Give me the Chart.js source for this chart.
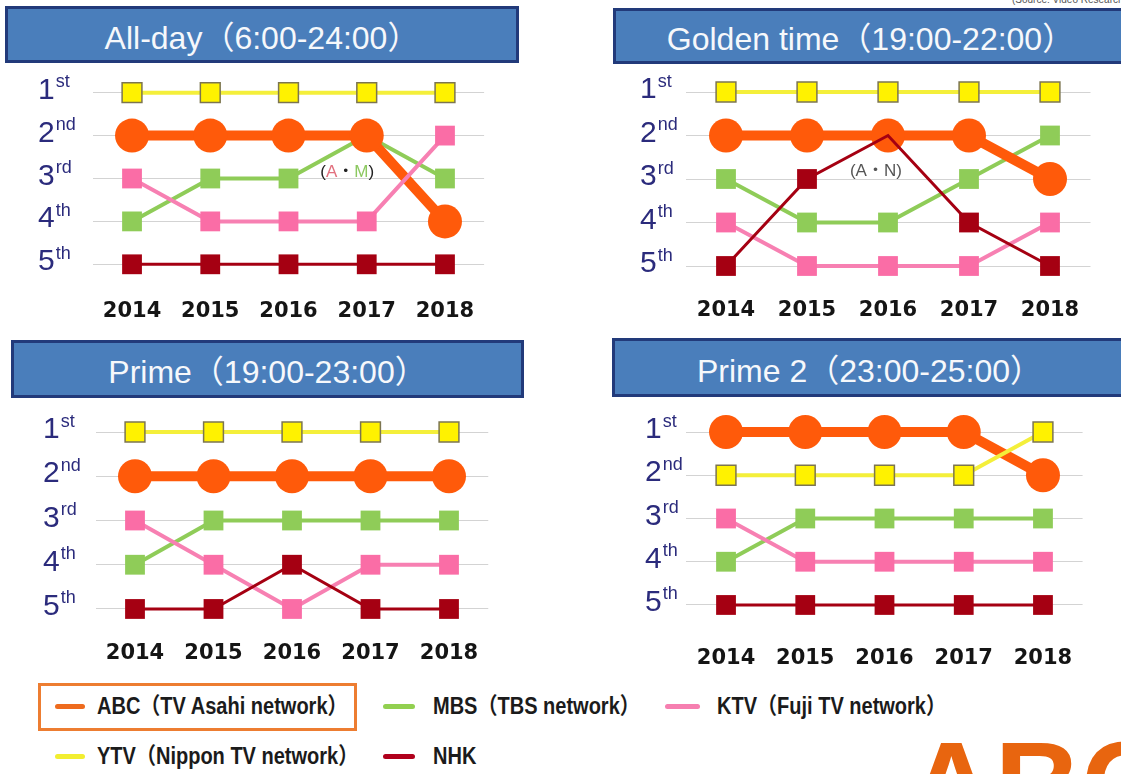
<!DOCTYPE html>
<html>
<head>
<meta charset="utf-8">
<script src="https://cdn.jsdelivr.net/npm/chart.js@4.4.1/dist/chart.umd.min.js"></script>
<style>
html,body{margin:0;padding:0;background:#fff;}
body{width:1121px;height:774px;overflow:hidden;position:relative;font-family:"Liberation Sans",Arial,sans-serif;}
.title{position:absolute;box-sizing:border-box;background:#4A7EBB;border:3px solid #223A7A;color:#F6F8FB;font-size:32px;display:flex;align-items:center;justify-content:center;white-space:nowrap;font-family:"Liberation Sans","Noto Sans CJK JP",sans-serif;}
canvas{position:absolute;}
.legbox{position:absolute;box-sizing:border-box;border:3px solid #ED7D31;}
.legline{position:absolute;height:5px;border-radius:3px;}
.legtext{position:absolute;font-family:"Liberation Sans","Noto Sans CJK JP",sans-serif;font-weight:bold;font-size:23px;color:#1b1b1b;white-space:nowrap;line-height:26px;transform:scaleX(0.87);transform-origin:0 50%;}
.logo{position:absolute;left:908px;top:724px;font-family:"Liberation Sans",sans-serif;font-weight:bold;font-size:120px;line-height:1;color:#E8650F;white-space:nowrap;}
.source{position:absolute;left:1012px;top:-6px;font-size:10px;color:#555;white-space:nowrap;}
</style>
</head>
<body>
<div class="source">(Source: Video Research Ltd.)</div>
<div id="titles"></div>
<canvas id="c1" width="560" height="270" style="left:0px;top:66px"></canvas>
<canvas id="c2" width="561" height="270" style="left:560px;top:66px"></canvas>
<canvas id="c3" width="560" height="280" style="left:0px;top:400px"></canvas>
<canvas id="c4" width="561" height="280" style="left:560px;top:400px"></canvas>
<div id="legend"></div>
<div class="logo">ABC</div>
<script>
// ---------- data ----------
const YEARS = ['2014', '2015', '2016', '2017', '2018'];
const RANKS = [1, 2, 3, 4, 5];
const RANK_NUM = ['1', '2', '3', '4', '5'];
const RANK_SUFFIX = ['st', 'nd', 'rd', 'th', 'th'];
const PANEL_TITLES = ['All-day（6:00-24:00）', 'Golden time（19:00-22:00）', 'Prime（19:00-23:00）', 'Prime 2（23:00-25:00）'];
const SERIES_NAMES = ['ABC（TV Asahi network）', 'MBS（TBS network）', 'KTV（Fuji TV network）', 'YTV（Nippon TV network）', 'NHK'];

const ALLDAY_ABC = [2, 2, 2, 2, 4];
const ALLDAY_MBS = [4, 3, 3, 2, 3];
const ALLDAY_KTV = [3, 4, 4, 4, 2];
const ALLDAY_YTV = [1, 1, 1, 1, 1];
const ALLDAY_NHK = [5, 5, 5, 5, 5];

const GOLDEN_ABC = [2, 2, 2, 2, 3];
const GOLDEN_MBS = [3, 4, 4, 3, 2];
const GOLDEN_KTV = [4, 5, 5, 5, 4];
const GOLDEN_YTV = [1, 1, 1, 1, 1];
const GOLDEN_NHK = [5, 3, 2, 4, 5];

const PRIME_ABC = [2, 2, 2, 2, 2];
const PRIME_MBS = [4, 3, 3, 3, 3];
const PRIME_KTV = [3, 4, 5, 4, 4];
const PRIME_YTV = [1, 1, 1, 1, 1];
const PRIME_NHK = [5, 5, 4, 5, 5];

const PRIME2_ABC = [1, 1, 1, 1, 2];
const PRIME2_MBS = [4, 3, 3, 3, 3];
const PRIME2_KTV = [3, 4, 4, 4, 4];
const PRIME2_YTV = [2, 2, 2, 2, 1];
const PRIME2_NHK = [5, 5, 5, 5, 5];

// ---------- styles ----------
const STYLE = {
  abc: {name: 0, line: '#FF5A0A', fill: '#FF5A0A', border: '#FF5A0A', bw: 0, lw: 10, style: 'circle', r: 17, order: 3, leg: '#EE6B1E'},
  mbs: {name: 1, line: '#8FCC58', fill: '#8FCC58', border: '#8FCC58', bw: 0, lw: 4, style: 'rect', r: 14, order: 4, leg: '#92D050'},
  ktv: {name: 2, line: '#F780B2', fill: '#FA6DA6', border: '#FA6DA6', bw: 0, lw: 4, style: 'rect', r: 14, order: 1, leg: '#F67FB0'},
  ytv: {name: 3, line: '#F4EF3A', fill: '#FFF200', border: '#7C7550', bw: 1.5, lw: 4, style: 'rect', r: 14, order: 2, leg: '#F2EE30'},
  nhk: {name: 4, line: '#A50012', fill: '#A50012', border: '#A50012', bw: 0, lw: 3, style: 'rect', r: 14, order: 0, leg: '#B0001C'}
};

const PANELS = [
  {canvas: 'c1', series: {abc: ALLDAY_ABC, mbs: ALLDAY_MBS, ktv: ALLDAY_KTV, ytv: ALLDAY_YTV, nhk: ALLDAY_NHK},
   cLeft: 0, cTop: 66, cW: 560, cH: 270, area: {l: 92.9, r: 484.1, t: 71.25, b: 285.75}, tickPad: 13.5, labelX: 38,
   title: {l: 5, t: 6, w: 514, h: 57},
   annot: [{x: 2.75, y: 2.85, parts: [['(', '#222'], ['A', '#E2707E'], ['・', '#222'], ['M', '#8CC860'], [')', '#222']]}]},
  {canvas: 'c2', series: {abc: GOLDEN_ABC, mbs: GOLDEN_MBS, ktv: GOLDEN_KTV, ytv: GOLDEN_YTV, nhk: GOLDEN_NHK},
   cLeft: 560, cTop: 66, cW: 561, cH: 270, area: {l: 685.5, r: 1090.5, t: 70.25, b: 287.75}, tickPad: 10.5, labelX: 640,
   title: {l: 613, t: 8, w: 515, h: 56},
   annot: [{x: 1.85, y: 2.82, parts: [['(A・N)', '#555']]}]},
  {canvas: 'c3', series: {abc: PRIME_ABC, mbs: PRIME_MBS, ktv: PRIME_KTV, ytv: PRIME_YTV, nhk: PRIME_NHK},
   cLeft: 0, cTop: 400, cW: 560, cH: 280, area: {l: 95.75, r: 488.25, t: 409.9, b: 631.1}, tickPad: 10.3, labelX: 43,
   title: {l: 11, t: 340, w: 513, h: 58}, annot: []},
  {canvas: 'c4', series: {abc: PRIME2_ABC, mbs: PRIME2_MBS, ktv: PRIME2_KTV, ytv: PRIME2_YTV, nhk: PRIME2_NHK},
   cLeft: 560, cTop: 400, cW: 561, cH: 280, area: {l: 686.4, r: 1082.6, t: 410.4, b: 626.6}, tickPad: 19.5, labelX: 645,
   title: {l: 612, t: 338, w: 515, h: 59}, annot: []}
];

const XAXIS_H = 48;

// ---------- plugins ----------
const rankLabelPlugin = {
  id: 'rankLabels',
  afterDraw(chart, args, opts) {
    const ys = chart.scales.y, ctx = chart.ctx;
    ctx.save();
    ctx.fillStyle = '#2B2B7C';
    ctx.textAlign = 'left';
    ctx.textBaseline = 'alphabetic';
    RANKS.forEach((r, i) => {
      const y = ys.getPixelForValue(r);
      ctx.font = '30px "Liberation Sans", Arial, sans-serif';
      ctx.fillText(RANK_NUM[i], opts.x, y + 6);
      const w = ctx.measureText(RANK_NUM[i]).width;
      ctx.font = '18px "Liberation Sans", Arial, sans-serif';
      ctx.fillText(RANK_SUFFIX[i], opts.x + w + 1, y - 5.5);
    });
    ctx.restore();
  }
};

const annotPlugin = {
  id: 'annots',
  afterDatasetsDraw(chart, args, opts) {
    const ctx = chart.ctx, xs = chart.scales.x, ys = chart.scales.y;
    ctx.save();
    ctx.font = '17px "Liberation Sans", "Noto Sans CJK JP", sans-serif';
    ctx.textBaseline = 'middle';
    ctx.textAlign = 'left';
    (opts.items || []).forEach(a => {
      const total = a.parts.reduce((s, p) => s + ctx.measureText(p[0]).width, 0);
      let x = xs.getPixelForValue(a.x) - total / 2;
      const y = ys.getPixelForValue(a.y);
      a.parts.forEach(p => {
        ctx.fillStyle = p[1];
        ctx.fillText(p[0], x, y);
        x += ctx.measureText(p[0]).width;
      });
    });
    ctx.restore();
  }
};

// ---------- build ----------
function buildDatasets(series) {
  return Object.keys(STYLE).map(key => {
    const st = STYLE[key];
    const data = series[key];
    return {
      label: SERIES_NAMES[st.name],
      data: data,
      order: st.order,
      borderColor: st.line,
      borderWidth: st.lw,
      backgroundColor: st.fill,
      pointStyle: st.style,
      pointBackgroundColor: st.fill,
      pointBorderColor: st.border,
      pointBorderWidth: st.bw,
      pointRadius: ctx => (key !== 'abc' && series.abc[ctx.dataIndex] === ctx.raw) ? 0 : st.r,
      pointHoverRadius: st.r,
      tension: 0,
      clip: false,
      fill: false
    };
  });
}

const titlesEl = document.getElementById('titles');
PANELS.forEach((p, i) => {
  const d = document.createElement('div');
  d.className = 'title';
  d.style.left = p.title.l + 'px';
  d.style.top = p.title.t + 'px';
  d.style.width = p.title.w + 'px';
  d.style.height = p.title.h + 'px';
  d.textContent = PANEL_TITLES[i];
  titlesEl.appendChild(d);

  const pad = {
    left: p.area.l - p.cLeft,
    right: (p.cLeft + p.cW) - p.area.r,
    top: p.area.t - p.cTop,
    bottom: (p.cTop + p.cH) - p.area.b - XAXIS_H
  };
  new Chart(document.getElementById(p.canvas), {
    type: 'line',
    data: {labels: YEARS, datasets: buildDatasets(p.series)},
    plugins: [rankLabelPlugin, annotPlugin],
    options: {
      responsive: false,
      animation: false,
      events: [],
      layout: {autoPadding: false, padding: pad},
      plugins: {
        legend: {display: false},
        tooltip: {enabled: false},
        rankLabels: {x: p.labelX - p.cLeft},
        annots: {items: p.annot}
      },
      scales: {
        x: {
          type: 'category', offset: true,
          grid: {display: false, drawTicks: false},
          border: {display: false},
          ticks: {padding: p.tickPad, color: '#151515', maxRotation: 0, autoSkip: false,
                  font: {family: 'DejaVu Sans', weight: 'bold', size: 21}},
          afterFit(s) { s.height = XAXIS_H; }
        },
        y: {
          type: 'linear', reverse: true, min: 0.5, max: 5.5,
          afterBuildTicks(s) { s.ticks = RANKS.map(v => ({value: v})); },
          ticks: {display: false},
          grid: {color: '#D3D3D3', lineWidth: 1, drawTicks: false},
          border: {display: false},
          afterFit(s) { s.width = 0; }
        }
      }
    }
  });
});

// ---------- legend ----------
const LEGEND_POS = [
  {key: 'abc', lx: 55, lw: 30, tx: 97, y: 706, box: {l: 38, t: 683, w: 319, h: 48}},
  {key: 'mbs', lx: 383, lw: 32, tx: 433, y: 706},
  {key: 'ktv', lx: 665, lw: 35, tx: 717, y: 706},
  {key: 'ytv', lx: 55, lw: 30, tx: 97, y: 756},
  {key: 'nhk', lx: 383, lw: 32, tx: 433, y: 756}
];
const legEl = document.getElementById('legend');
LEGEND_POS.forEach(item => {
  const st = STYLE[item.key];
  if (item.box) {
    const b = document.createElement('div');
    b.className = 'legbox';
    b.style.left = item.box.l + 'px'; b.style.top = item.box.t + 'px';
    b.style.width = item.box.w + 'px'; b.style.height = item.box.h + 'px';
    legEl.appendChild(b);
  }
  const ln = document.createElement('div');
  ln.className = 'legline';
  ln.style.left = item.lx + 'px'; ln.style.top = (item.y - 2.5) + 'px';
  ln.style.width = item.lw + 'px'; ln.style.background = st.leg;
  legEl.appendChild(ln);
  const tx = document.createElement('div');
  tx.className = 'legtext';
  tx.style.left = item.tx + 'px'; tx.style.top = (item.y - 13) + 'px';
  tx.textContent = SERIES_NAMES[st.name];
  legEl.appendChild(tx);
});
</script>
</body>
</html>
